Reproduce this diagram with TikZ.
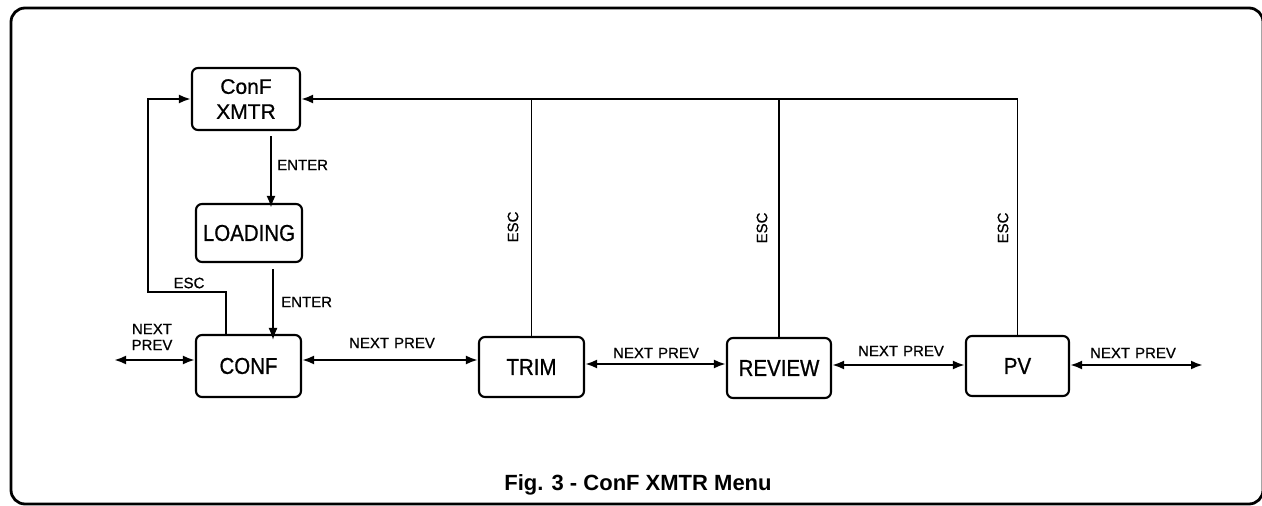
\documentclass[tikz,border=0pt]{standalone}
\usepackage{fontspec}
\setmainfont{Liberation Sans}
\newfontfamily\boxf[FakeStretch=0.89,FakeBold=0.8]{Liberation Sans}
\newfontfamily\boxg[FakeBold=0.8]{Liberation Sans}
\newfontfamily\lblf[FakeBold=0.7]{Liberation Sans}
\usetikzlibrary{arrows.meta}
\begin{document}
\begin{tikzpicture}[x=1pt,y=-1pt,
  box/.style={draw,line width=2.1pt,rounded corners=6pt,inner sep=0pt,
    minimum width=105pt,minimum height=60pt,font=\boxf\fontsize{23}{25}\selectfont},
  conn/.style={line width=2.3pt},
  thin conn/.style={line width=1.7pt},
  arr/.style={-{Latex[length=12pt,width=9pt]}},
  darr/.style={{Latex[length=12pt,width=9pt]}-{Latex[length=12pt,width=9pt]}},
  lbl/.style={font=\lblf\fontsize{15}{15}\selectfont,inner sep=0pt},
  captext/.style={font=\bfseries\fontsize{22}{22}\selectfont,inner sep=0pt}]
\useasboundingbox (0,0) rectangle (1262,506);
\draw[line width=2.8pt,rounded corners=14pt] (11,8) rectangle (1263,504);

\node[box,minimum width=108pt,minimum height=62pt,align=center,
  font=\boxg\fontsize{21}{25}\selectfont] (xmtr) at (246,99) {ConF\\XMTR};
\node[box,minimum width=106pt,minimum height=58pt] (loading) at (249,233) {LOADING};
\node[box,minimum height=62pt] (conf) at (248.5,366) {CONF};
\node[box] (trim) at (531.5,367) {TRIM};
\node[box,minimum width=104pt] (review) at (779,368) {REVIEW};
\node[box,minimum width=103pt] (pv) at (1017.5,366) {PV};

\coordinate (escL) at (148,292);
\coordinate (leftEnd) at (114,360);
\coordinate (rightEnd) at (1203,365);
\coordinate (topR) at (pv.north |- xmtr.east);

% ENTER arrows
\draw[conn,arr] ([xshift=25pt,yshift=-5pt]xmtr.south) -- ([xshift=25pt,yshift=-5pt]xmtr.south |- loading.north);
\draw[thin conn,arr] ([xshift=24pt,yshift=-6pt]loading.south) -- ([xshift=24pt,yshift=-6pt]loading.south |- conf.north);

% ESC from CONF
\draw[conn,arr] ([xshift=-22.5pt]conf.north) |- (escL) |- (xmtr.west);

% ESC from TRIM/REVIEW/PV
\draw[thin conn] (pv.north) -- (topR);
\draw[conn,arr] (topR) -- (xmtr.east);
\draw[thin conn] (trim.north) -- (trim.north |- xmtr.east);
\draw[thin conn] (review.north) -- (review.north |- xmtr.east);

% NEXT/PREV arrows
\draw[conn,darr] (leftEnd) -- (leftEnd -| conf.west);
\draw[conn,darr] ([yshift=6pt]conf.east) -- ([yshift=6pt]conf.east -| trim.west);
\draw[conn,darr] ([yshift=3pt]trim.east) -- ([yshift=3pt]trim.east -| review.west);
\draw[conn,darr] ([yshift=3pt]review.east) -- ([yshift=3pt]review.east -| pv.west);
\draw[conn,darr] (pv.east |- rightEnd) -- (rightEnd);

% labels
\node[lbl,anchor=west] (l1) at (277,165) {ENTER};
\node[lbl,anchor=west] (l2) at (281,302) {ENTER};
\node[lbl] (l3) at (189,283) {ESC};
\node[lbl,align=center] (l4) at (152,337) {NEXT\\[1pt]PREV};
\node[lbl] (l5) at (392,343) {NEXT\hspace{5pt}PREV};
\node[lbl] (l6) at (656,353) {NEXT\hspace{5pt}PREV};
\node[lbl] (l7) at (901,351) {NEXT\hspace{5pt}PREV};
\node[lbl] (l8) at (1133,353) {NEXT\hspace{5pt}PREV};
\node[lbl,rotate=90] (l9) at (513,227) {ESC};
\node[lbl,rotate=90] (l10) at (762,228) {ESC};
\node[lbl,rotate=90] (l11) at (1003,228) {ESC};
\node[captext] (caption) at (638,485) {Fig. 3 - ConF XMTR Menu};
\end{tikzpicture}
\end{document}
